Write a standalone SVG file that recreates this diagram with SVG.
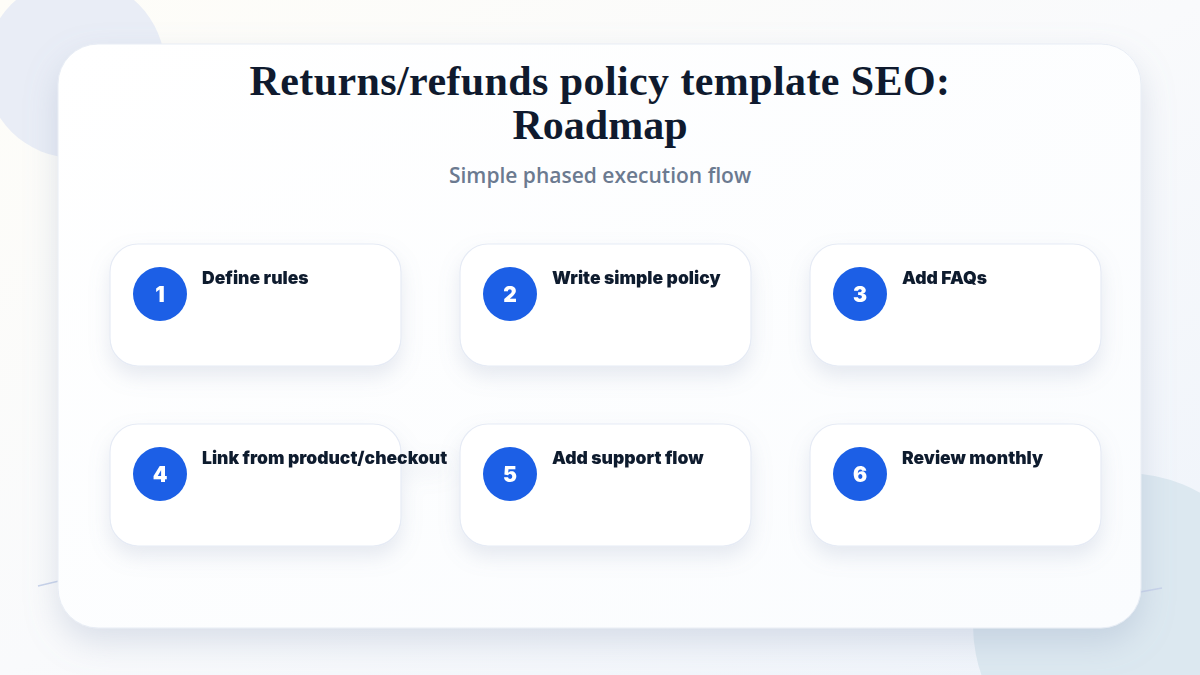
<svg xmlns="http://www.w3.org/2000/svg" width="1200" height="675" viewBox="0 0 1200 675">
<defs>
<linearGradient id="bg" x1="0" y1="0" x2="1" y2="1">
<stop offset="0" stop-color="#fefdf8"/>
<stop offset="0.5" stop-color="#f9fafc"/>
<stop offset="1" stop-color="#eef3fa"/>
</linearGradient>
<linearGradient id="panel" x1="0" y1="0" x2="1" y2="1">
<stop offset="0" stop-color="#ffffff"/>
<stop offset="1" stop-color="#fafcfe"/>
</linearGradient>
<filter id="psh" x="-10%" y="-10%" width="120%" height="130%">
<feDropShadow dx="0" dy="14" stdDeviation="16" flood-color="#8a9ab8" flood-opacity="0.28"/>
</filter>
<filter id="csh" x="-20%" y="-20%" width="140%" height="160%">
<feDropShadow dx="0" dy="10" stdDeviation="10" flood-color="#8a9ab8" flood-opacity="0.2"/>
</filter>
<style>
.card{fill:#ffffff;stroke:#e6ebf5;stroke-width:1.2}
.num{fill:#1a5fe6}
.numt{font-family:Inter,"Noto Sans",sans-serif;font-weight:900;font-size:21px;fill:#ffffff;text-anchor:middle}
.lbl{font-family:Inter,"Noto Sans",sans-serif;font-weight:900;font-size:17.5px;fill:#111a2e}
.ttl{font-family:'Liberation Serif',serif;font-weight:700;font-size:42px;fill:#0f1a2e;text-anchor:middle}
</style>
</defs>
<rect width="1200" height="675" fill="url(#bg)"/>
<circle cx="75" cy="68" r="90" fill="#e9edf6"/>
<circle cx="1125" cy="625" r="152" fill="#dce8f0"/>
<path d="M38 586 Q 300 520 600 580 T 1162 588" fill="none" stroke="#c8d3ea" stroke-width="1.5"/>
<rect x="58" y="44" width="1083" height="584" rx="40" fill="url(#panel)" stroke="#e8edf5" stroke-width="1" filter="url(#psh)"/>
<text class="ttl" x="600" y="95" letter-spacing="0.4">Returns/refunds policy template SEO:</text>
<text class="ttl" x="600" y="139">Roadmap</text>
<text x="600" y="183" text-anchor="middle" font-family="'Open Sans',sans-serif" font-weight="600" font-size="21" fill="#6b7a90">Simple phased execution flow</text>
<g id="connectors"></g>
<g id="step1" filter="url(#csh)"><rect class="card" x="110" y="244" width="291" height="122" rx="28"/><circle class="num" cx="160" cy="294" r="27"/><text class="numt" x="160" y="301.5">1</text><text class="lbl" x="202" y="284">Define rules</text></g>
<g id="step2" filter="url(#csh)"><rect class="card" x="460" y="244" width="291" height="122" rx="28"/><circle class="num" cx="510" cy="294" r="27"/><text class="numt" x="510" y="301.5">2</text><text class="lbl" x="552" y="284">Write simple policy</text></g>
<g id="step3" filter="url(#csh)"><rect class="card" x="810" y="244" width="291" height="122" rx="28"/><circle class="num" cx="860" cy="294" r="27"/><text class="numt" x="860" y="301.5">3</text><text class="lbl" x="902" y="284">Add FAQs</text></g>
<g id="step4" filter="url(#csh)"><rect class="card" x="110" y="424" width="291" height="122" rx="28"/><circle class="num" cx="160" cy="474" r="27"/><text class="numt" x="160" y="481.5">4</text><text class="lbl" x="202" y="464">Link from product/checkout</text></g>
<g id="step5" filter="url(#csh)"><rect class="card" x="460" y="424" width="291" height="122" rx="28"/><circle class="num" cx="510" cy="474" r="27"/><text class="numt" x="510" y="481.5">5</text><text class="lbl" x="552" y="464">Add support flow</text></g>
<g id="step6" filter="url(#csh)"><rect class="card" x="810" y="424" width="291" height="122" rx="28"/><circle class="num" cx="860" cy="474" r="27"/><text class="numt" x="860" y="481.5">6</text><text class="lbl" x="902" y="464">Review monthly</text></g>
</svg>
